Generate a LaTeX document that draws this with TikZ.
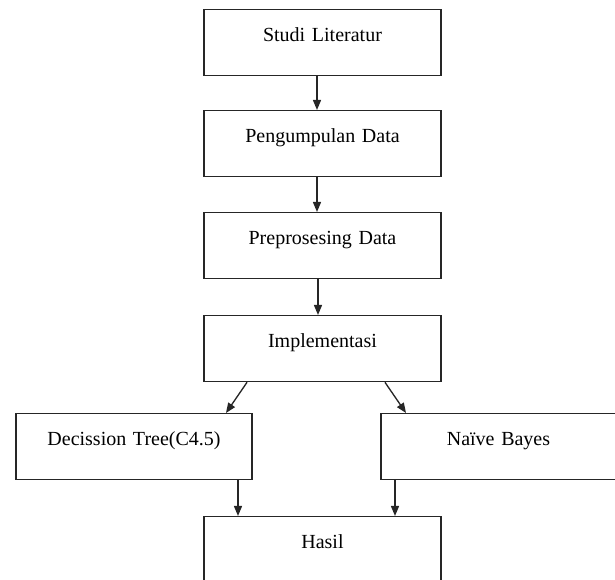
\documentclass[tikz,border=0pt]{standalone}
\usepackage{fontspec}
\setmainfont{Liberation Serif}
\usetikzlibrary{arrows.meta}

\tikzset{
  stepbox/.style={draw=black!85, line width=1pt, rectangle, inner xsep=0pt, inner ysep=0pt,
    font=\fontsize{15}{18}\selectfont, anchor=north,
    text height=23.6pt, text depth=25.9pt},
  arr/.style={draw=black!85, line width=1pt, -{Triangle[length=7.5pt, width=6pt]}}
}

\begin{document}
\begin{tikzpicture}[x=0.75pt, y=-0.75pt]

% --- page (pixel grid of the reference) ---
\useasboundingbox (0,0) rectangle (615,580);
\clip (0,0) rectangle (615,580);

% --- main chain ---
\node[stepbox, text width=177.75pt, align=center] (studi)  at (322.5,9)   {Studi Literatur};
\node[stepbox, text width=177.75pt, align=center] (kumpul) at (322.5,110) {Pengumpulan Data};
\node[stepbox, text width=177.75pt, align=center] (prepro) at (322.5,212) {Preprosesing Data};
\node[stepbox, text width=177.75pt, align=center] (impl)   at (322.5,315) {Implementasi};

% --- methods ---
\node[stepbox, text width=177pt, align=center]    (dtree)  at (134,413)   {Decission Tree(C4.5)};
\node[stepbox, text width=176.25pt, align=center] (bayes)  at (498.5,413) {Naïve Bayes};

% --- result (runs past the lower edge) ---
\node[stepbox, text width=177.75pt, align=center, text depth=40pt] (hasil) at (322.5,516) {Hasil};

% --- arrows ---
\draw[arr] ([xshift=-5.5*0.75pt]studi.south)  -- ([xshift=-5.5*0.75pt]kumpul.north);
\draw[arr] ([xshift=-5.5*0.75pt]kumpul.south) -- ([xshift=-5.5*0.75pt]prepro.north);
\draw[arr] ([xshift=-4.5*0.75pt]prepro.south) -- ([xshift=-4.5*0.75pt]impl.north);

\draw[arr] ([xshift=-75.5*0.75pt]impl.south) -- ([xshift=92*0.75pt]dtree.north);
\draw[arr] ([xshift=62.5*0.75pt]impl.south)  -- ([xshift=-92.5*0.75pt]bayes.north);

\draw[arr] ([xshift=104*0.75pt]dtree.south)   -- ([xshift=104*0.75pt]dtree.south |- hasil.north);
\draw[arr] ([xshift=-103.5*0.75pt]bayes.south) -- ([xshift=-103.5*0.75pt]bayes.south |- hasil.north);

\end{tikzpicture}
\end{document}
